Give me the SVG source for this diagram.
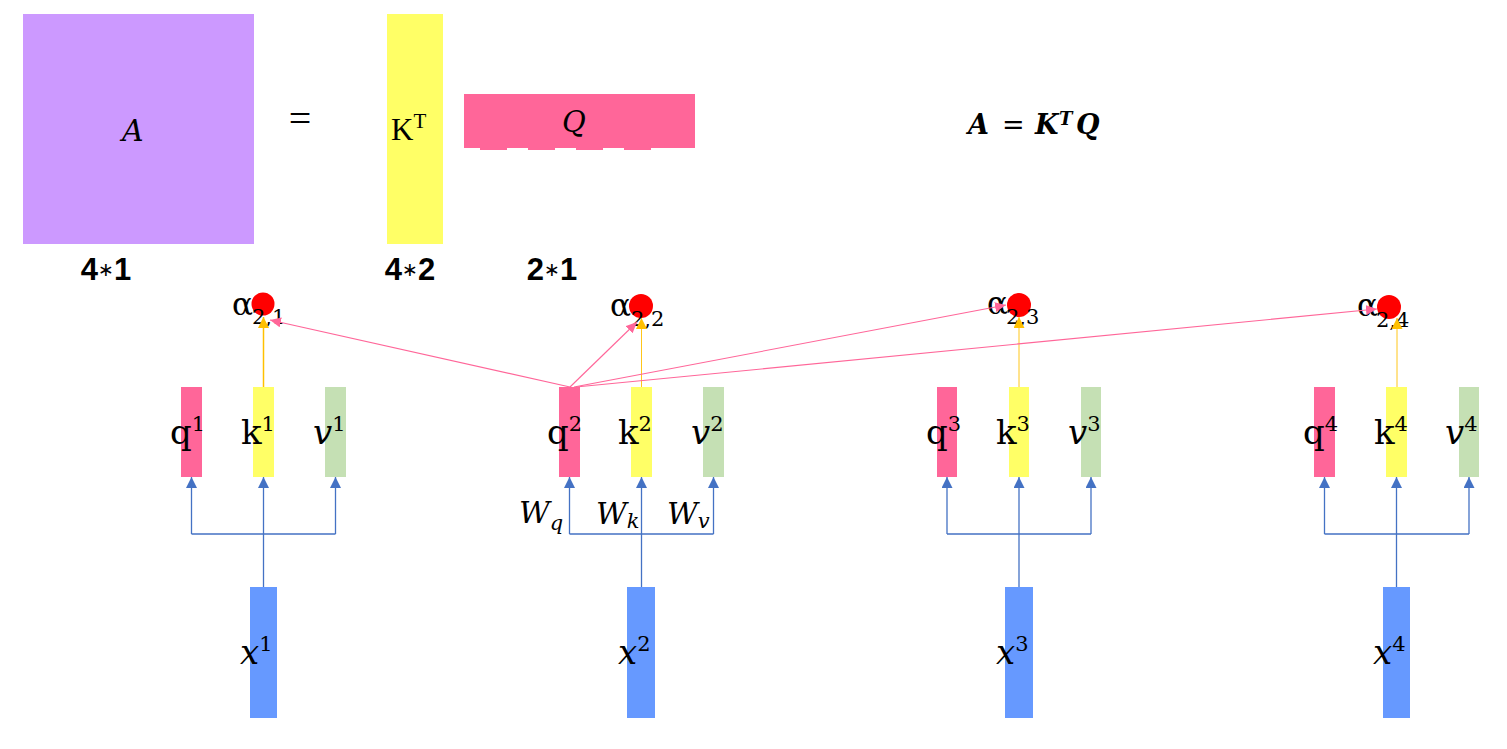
<svg xmlns="http://www.w3.org/2000/svg" width="1507" height="749" viewBox="0 0 1507 749">
<style>
.q{fill:#FF6699}.k{fill:#FFFF66}.v{fill:#C5E0B4}.x{fill:#6699FF}
.lab{font-family:"DejaVu Serif",serif;font-size:34px;fill:#000}
.it{font-style:italic}
.sup{font-size:21px;font-style:normal}
.alpha{font-family:"DejaVu Serif",serif;font-size:31px;fill:#000}
.sub{font-size:21px}
.dim{font-family:"Liberation Sans",Arial,sans-serif;font-weight:bold;font-size:31px;fill:#000}
.ast{font-family:"DejaVu Sans",sans-serif;font-size:19px;font-weight:normal}
.blue{stroke:#4472C4;stroke-width:1.3;fill:none}
.pink{stroke:#FF6699;stroke-width:1.1;fill:none}
.or{stroke:#FFC000;stroke-width:1.5;fill:none}
.or2{stroke:#FFC000;stroke-width:0.9;fill:none}
</style>
<defs>
<marker id="mb" markerUnits="userSpaceOnUse" markerWidth="11" markerHeight="11" refX="11" refY="5.5" orient="auto"><path d="M0,0L11,5.5L0,11z" fill="#4472C4"/></marker>
<marker id="mp" markerUnits="userSpaceOnUse" markerWidth="11" markerHeight="10" refX="11" refY="5" orient="auto"><path d="M0,0L11,5L0,10z" fill="#FF6699"/></marker>
<marker id="mo" markerUnits="userSpaceOnUse" markerWidth="11" markerHeight="11" refX="11" refY="5.5" orient="auto"><path d="M0,0L11,5.5L0,11z" fill="#FFC000"/></marker>
</defs>
<rect width="1507" height="749" fill="#fff"/>

<g id="matA">
<rect x="23" y="14" width="231" height="230" fill="#CC99FF"/>
<text x="122" y="141" class="lab it" style="font-size:30px">A</text>
<text x="106" y="280" class="dim" text-anchor="middle">4<tspan class="ast" dy="-4">∗</tspan><tspan dy="4">1</tspan></text>
</g>
<g id="eq"><text x="300" y="132" font-family="Liberation Serif,serif" font-size="40" text-anchor="middle">=</text></g>
<g id="matKT">
<rect x="387" y="14" width="56" height="230" fill="#FFFF66"/>
<text x="391" y="140" font-family="Liberation Serif,serif" font-size="31">K<tspan font-size="21" dy="-12">T</tspan></text>
<text x="410" y="280" class="dim" text-anchor="middle">4<tspan class="ast" dy="-4">∗</tspan><tspan dy="4">2</tspan></text>
</g>
<g id="matQ">
<rect x="464" y="94" width="231" height="54" fill="#FF6699"/>
<rect x="480" y="147" width="27" height="3" fill="#FF6699"/>
<rect x="528" y="147" width="27" height="3" fill="#FF6699"/>
<rect x="576" y="147" width="27" height="3" fill="#FF6699"/>
<rect x="624" y="147" width="27" height="3" fill="#FF6699"/>
<text x="562" y="132" class="lab it" style="font-size:29px">Q</text>
<text x="552" y="280" class="dim" text-anchor="middle">2<tspan class="ast" dy="-4">∗</tspan><tspan dy="4">1</tspan></text>
</g>
<g id="formula" font-family="DejaVu Serif,serif" font-weight="bold" font-style="italic" font-size="27">
<text x="968" y="134">A</text>
<text x="1002" y="134" font-style="normal" font-weight="normal" font-size="27">=</text>
<text x="1035" y="134">K</text>
<text x="1059" y="125" font-size="18">T</text>
<text x="1076" y="134">Q</text>
</g>

<g id="col1">
<rect class="q" x="181" y="387" width="21" height="90"/>
<rect class="k" x="253" y="387" width="21" height="90"/>
<rect class="v" x="325" y="387" width="21" height="90"/>
<rect class="x" x="250" y="587" width="27" height="131"/>
<text class="lab" x="170" y="444">q<tspan class="sup" dy="-13">1</tspan></text>
<text class="lab" x="241" y="444">k<tspan class="sup" dy="-13">1</tspan></text>
<text class="lab it" x="313" y="444">v<tspan class="sup" dy="-13">1</tspan></text>
<text class="lab it" x="240" y="664">x<tspan class="sup" dy="-13">1</tspan></text>
<circle cx="263" cy="304" r="11.5" fill="#FF0000"/>
<text class="alpha" x="232" y="315">α<tspan class="sub" x="252" y="324">2,1</tspan></text>
</g>
<g id="col2">
<rect class="q" x="559" y="387" width="21" height="90"/>
<rect class="k" x="631" y="387" width="21" height="90"/>
<rect class="v" x="703" y="387" width="21" height="90"/>
<rect class="x" x="627" y="587" width="28" height="131"/>
<text class="lab" x="547" y="444">q<tspan class="sup" dy="-13">2</tspan></text>
<text class="lab" x="618" y="444">k<tspan class="sup" dy="-13">2</tspan></text>
<text class="lab it" x="691" y="444">v<tspan class="sup" dy="-13">2</tspan></text>
<text class="lab it" x="618" y="664">x<tspan class="sup" dy="-13">2</tspan></text>
<circle cx="641" cy="306" r="12" fill="#FF0000"/>
<text class="alpha" x="610" y="316">α<tspan class="sub" x="631" y="326">2,2</tspan></text>
<text class="lab it" x="519" y="523" style="font-size:30px">W<tspan class="sub" dy="7">q</tspan></text>
<text class="lab it" x="596" y="524" style="font-size:30px">W<tspan class="sub" dy="4">k</tspan></text>
<text class="lab it" x="667" y="524" style="font-size:30px">W<tspan class="sub" dy="4">v</tspan></text>
</g>
<g id="col3">
<rect class="q" x="937" y="387" width="20" height="90"/>
<rect class="k" x="1009" y="387" width="20" height="90"/>
<rect class="v" x="1081" y="387" width="20" height="90"/>
<rect class="x" x="1005" y="587" width="28" height="131"/>
<text class="lab" x="926" y="444">q<tspan class="sup" dy="-13">3</tspan></text>
<text class="lab" x="996" y="444">k<tspan class="sup" dy="-13">3</tspan></text>
<text class="lab it" x="1068" y="444">v<tspan class="sup" dy="-13">3</tspan></text>
<text class="lab it" x="996" y="664">x<tspan class="sup" dy="-13">3</tspan></text>
<circle cx="1019" cy="305" r="12" fill="#FF0000"/>
<text class="alpha" x="987" y="314">α<tspan class="sub" x="1006" y="324">2,3</tspan></text>
</g>
<g id="col4">
<rect class="q" x="1314" y="387" width="21" height="90"/>
<rect class="k" x="1386" y="387" width="21" height="90"/>
<rect class="v" x="1459" y="387" width="20" height="90"/>
<rect class="x" x="1383" y="587" width="27" height="131"/>
<text class="lab" x="1303" y="444">q<tspan class="sup" dy="-13">4</tspan></text>
<text class="lab" x="1374" y="444">k<tspan class="sup" dy="-13">4</tspan></text>
<text class="lab it" x="1445" y="444">v<tspan class="sup" dy="-13">4</tspan></text>
<text class="lab it" x="1373" y="664">x<tspan class="sup" dy="-13">4</tspan></text>
<circle cx="1389" cy="307" r="12" fill="#FF0000"/>
<text class="alpha" x="1357" y="316">α<tspan class="sub" x="1376" y="327">2,4</tspan></text>
</g>

<g id="connectors">
<path class="blue" d="M191.5,534H335.5M191.5,534V477" marker-end="url(#mb)"/>
<path class="blue" d="M335.5,534V477" marker-end="url(#mb)"/>
<path class="blue" d="M263.5,587V477" marker-end="url(#mb)"/>
<path class="blue" d="M569.5,534H713.5M569.5,534V477" marker-end="url(#mb)"/>
<path class="blue" d="M713.5,534V477" marker-end="url(#mb)"/>
<path class="blue" d="M641.5,587V477" marker-end="url(#mb)"/>
<path class="blue" d="M947,534H1091M947,534V477" marker-end="url(#mb)"/>
<path class="blue" d="M1091,534V477" marker-end="url(#mb)"/>
<path class="blue" d="M1019,587V477" marker-end="url(#mb)"/>
<path class="blue" d="M1324.5,534H1469M1324.5,534V477" marker-end="url(#mb)"/>
<path class="blue" d="M1469,534V477" marker-end="url(#mb)"/>
<path class="blue" d="M1396.5,587V477" marker-end="url(#mb)"/>
<path class="or" d="M263.5,387V317" marker-end="url(#mo)"/>
<path class="or2" d="M641.5,387V318" marker-end="url(#mo)"/>
<path class="or2" d="M1019,387V317" marker-end="url(#mo)"/>
<path class="or2" d="M1397,387V318" marker-end="url(#mo)"/>
<path class="pink" d="M570,387L270,320" marker-end="url(#mp)"/>
<path class="pink" d="M570,387L637,322" marker-end="url(#mp)"/>
<path class="pink" d="M574,387L1006,305" marker-end="url(#mp)"/>
<path class="pink" d="M576,387L1377,309" marker-end="url(#mp)"/>
</g>
</svg>
